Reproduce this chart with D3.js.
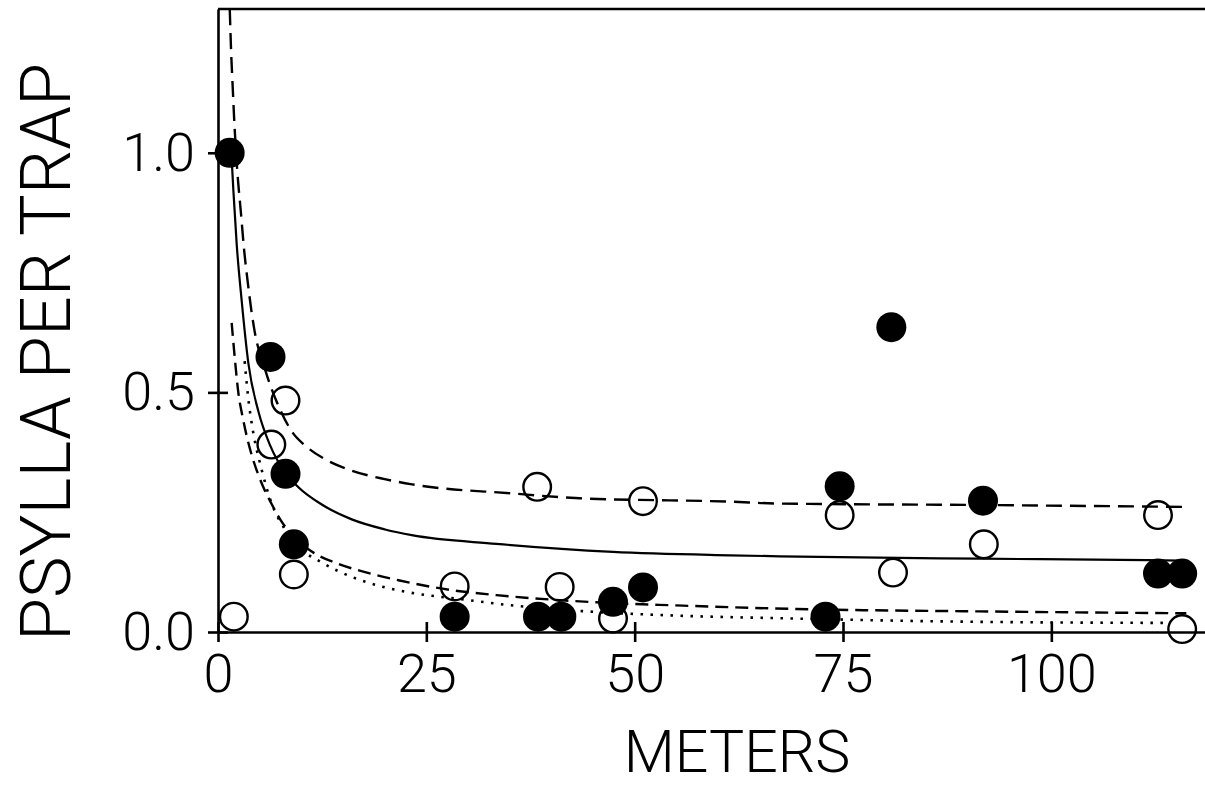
<!DOCTYPE html>
<meta charset="utf-8">
<head>
  <title>Psylla per trap vs meters</title>
</head>

<style>
body { margin: 0; background: white; }
text {
  font-family: Roboto, "Liberation Sans", sans-serif;
  font-weight: 300;
  fill: black;
}
.axis path, .axis line, .frame {
  stroke: black;
  stroke-width: 2.6;
  fill: none;
}
.axis text { font-size: 54px; }
.curve { fill: none; stroke: black; }
</style>

<body>
  <svg width="1205" height="788"></svg>

  <script src="https://cdnjs.cloudflare.com/ajax/libs/d3/7.8.5/d3.min.js"></script>
  <script>
// points (meters, psylla per trap)
var filledX = [1.4, 6.3, 8.1, 9.1, 28.4, 38.4, 41.2, 47.4, 51.0, 72.9, 74.6, 80.8, 91.8, 112.8, 115.7];
var filledY = [1.0, 0.574, 0.33, 0.183, 0.032, 0.032, 0.032, 0.063, 0.093, 0.032, 0.304, 0.636, 0.274, 0.122, 0.122];
var openX = [1.9, 6.4, 8.1, 9.1, 28.4, 38.3, 41.0, 47.4, 51.0, 74.6, 81.0, 91.9, 112.8, 115.7];
var openY = [0.032, 0.391, 0.483, 0.12, 0.095, 0.303, 0.094, 0.028, 0.273, 0.244, 0.124, 0.183, 0.244, 0.006];

// fitted curves
var upperDashed = [[1.41,1.30],[1.6,1.20],[1.73,1.15],[2.0,1.05],[2.36,0.952],[2.76,0.873],[3.12,0.80],[3.57,0.73],
  [4.05,0.665],[4.37,0.63],[5.7,0.545],[7.3,0.47],[9.0,0.415],[10.4,0.39],[12.9,0.36],[16,0.337],[20,0.319],
  [23.3,0.308],[35.4,0.289],[43.4,0.279],[61.4,0.272],[67.4,0.268],[91.4,0.265],[116.2,0.261]];
var solid = [[1.6,1.0],[1.85,0.92],[2.24,0.81],[2.85,0.69],[3.65,0.56],[4.85,0.46],[6.24,0.39],[8.1,0.332],
  [9.65,0.302],[12.45,0.266],[16.05,0.235],[20.05,0.214],[23.25,0.202],[33.4,0.184],[47.4,0.167],[61.4,0.16],
  [67.4,0.158],[91.4,0.153],[111.5,0.15],[115.7,0.149]];
var lowerDashed = [[1.64,0.645],[2.04,0.567],[2.4,0.505],[3.0,0.445],[3.5,0.405],[4.1,0.366],[4.8,0.33],[5.5,0.30],
  [6.5,0.265],[7.5,0.234],[9.0,0.2],[11.25,0.168],[14.45,0.142],[17.65,0.125],[21.65,0.108],[28.2,0.087],
  [33.4,0.077],[45.4,0.062],[55.8,0.055],[69.4,0.048],[91.4,0.043],[116.2,0.039]];
var dotted = [[3.2,0.565],[3.65,0.485],[4.05,0.435],[5.25,0.338],[6.24,0.278],[8.0,0.215],[9.65,0.178],[12.45,0.145],
  [16.05,0.115],[20.05,0.093],[22.5,0.084],[29.8,0.067],[35,0.056],[44.2,0.043],[53.8,0.035],[69.4,0.028],
  [87.4,0.022],[113.5,0.019]];

var xTicks = [0, 25, 50, 75, 100];
var yTicks = [0, 0.5, 1.0];

var svg = d3.select('svg');

var x = d3.scaleLinear().domain([0, 120]).range([218, 1218]);
var y = d3.scaleLinear().domain([0, 1.3]).range([632, 9]);

svg.append('clipPath').attr('id', 'plot')
  .append('rect')
  .attr('x', x(0)).attr('y', y(1.3))
  .attr('width', x(120) - x(0)).attr('height', y(0) - y(1.3));

// frame top edge
svg.append('line').attr('class', 'frame')
  .attr('x1', x(0)).attr('x2', x(120))
  .attr('y1', y(1.3)).attr('y2', y(1.3));

var line = d3.line()
  .x(function(d) { return x(d[0]); })
  .y(function(d) { return y(d[1]); })
  .curve(d3.curveMonotoneX);

var g = svg.append('g').attr('clip-path', 'url(#plot)');

var curves = [
  {pts: upperDashed, dash: '16,8', w: 2.4},
  {pts: solid, dash: null, w: 2.2},
  {pts: lowerDashed, dash: '13,7', w: 2.4},
  {pts: dotted, dash: '2.5,7.5', w: 2.6}
];
g.selectAll('path.curve')
  .data(curves)
  .enter()
  .append('path')
  .attr('class', 'curve')
  .attr('d', function(d) { return line(d.pts); })
  .attr('stroke-width', function(d) { return d.w; })
  .attr('stroke-dasharray', function(d) { return d.dash; });

// open circles first, filled ones sit on top
svg.append('g').selectAll('circle')
  .data(openX)
  .enter()
  .append('circle')
  .attr('cx', function(d) { return x(d); })
  .attr('cy', function(d, i) { return y(openY[i]); })
  .attr('r', 13.8)
  .attr('fill', 'none')
  .attr('stroke', 'black')
  .attr('stroke-width', 2.4);

svg.append('g').selectAll('circle')
  .data(filledX)
  .enter()
  .append('circle')
  .attr('cx', function(d) { return x(d); })
  .attr('cy', function(d, i) { return y(filledY[i]); })
  .attr('r', 15)
  .attr('fill', 'black');

// axes, ticks cross the axis line
var xAxis = svg.append('g').attr('class', 'axis')
  .attr('transform', 'translate(0,' + y(0) + ')')
  .call(d3.axisBottom(x).tickValues(xTicks).tickSize(10).tickSizeOuter(0).tickPadding(12));
xAxis.selectAll('.tick line').attr('y1', -10);

var yAxis = svg.append('g').attr('class', 'axis')
  .attr('transform', 'translate(' + x(0) + ',0)')
  .call(d3.axisLeft(y).tickValues(yTicks).tickFormat(d3.format('.1f')).tickSize(10).tickSizeOuter(0).tickPadding(13));
yAxis.selectAll('.tick line').attr('x1', 10);

svg.selectAll('.axis text').attr('font-family', null).attr('font-size', null);

svg.append('text')
  .attr('x', 737)
  .attr('y', 772)
  .attr('text-anchor', 'middle')
  .attr('font-size', 59)
  .text('METERS');

svg.append('text')
  .attr('transform', 'translate(70,352) rotate(-90)')
  .attr('text-anchor', 'middle')
  .attr('font-size', 70)
  .text('PSYLLA PER TRAP');
  </script>
</body>
</html>
